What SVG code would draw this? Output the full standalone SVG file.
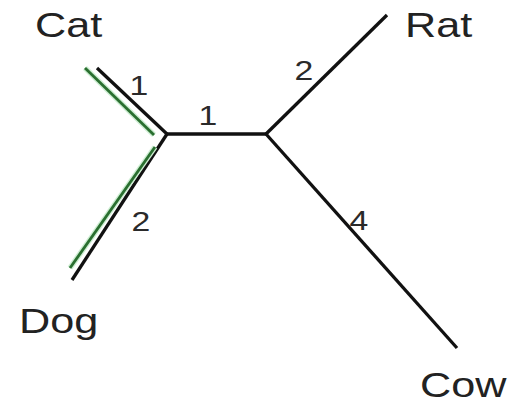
<svg xmlns="http://www.w3.org/2000/svg" width="516" height="404" viewBox="0 0 516 404">
<style>
.edge{stroke:#111;stroke-width:3.3;stroke-linecap:butt;fill:none}
.halo{stroke:#cdeed2;stroke-width:5.5;fill:none}
.path{stroke:#2a6f30;stroke-width:2.8;fill:none}
.leaf{font-family:"Liberation Sans",Arial,sans-serif;font-size:36px;fill:#222}
.len{font-family:"Liberation Sans",Arial,sans-serif;font-size:27px;fill:#2a2a2a;text-anchor:middle}
</style>
<rect width="516" height="404" fill="#ffffff"/>
<g id="connectors">
<line class="edge" x1="167" y1="134" x2="97" y2="68"/>
<line class="edge" x1="167" y1="134" x2="72" y2="280"/>
<line class="edge" x1="165" y1="134" x2="268" y2="134"/>
<line class="edge" x1="266" y1="134" x2="387" y2="15"/>
<line class="edge" x1="266" y1="134" x2="457" y2="348"/>
<g id="highlight">
<line class="halo" x1="85" y1="68" x2="154" y2="135"/>
<line class="halo" x1="155" y1="147" x2="70" y2="268"/>
<line class="path" x1="85" y1="68" x2="154" y2="135"/>
<line class="path" x1="155" y1="147" x2="70" y2="268"/>
</g>
<g id="edge-labels">
<text class="len" transform="translate(139,95) scale(1.25,1)">1</text>
<text class="len" transform="translate(208,125) scale(1.25,1)">1</text>
<text class="len" transform="translate(304,80) scale(1.25,1)">2</text>
<text class="len" transform="translate(359,230) scale(1.25,1)">4</text>
<text class="len" transform="translate(141,231) scale(1.25,1)">2</text>
</g>
</g>
<g id="node-cat"><text class="leaf" transform="translate(35,37) scale(1.2,1)">Cat</text></g>
<g id="node-rat"><text class="leaf" transform="translate(405,37) scale(1.2,1)">Rat</text></g>
<g id="node-dog"><text class="leaf" transform="translate(19,333) scale(1.2,1)">Dog</text></g>
<g id="node-cow"><text class="leaf" transform="translate(420,397) scale(1.2,1)">Cow</text></g>
<g id="node-inner1"></g>
<g id="node-inner2"></g>
</svg>
